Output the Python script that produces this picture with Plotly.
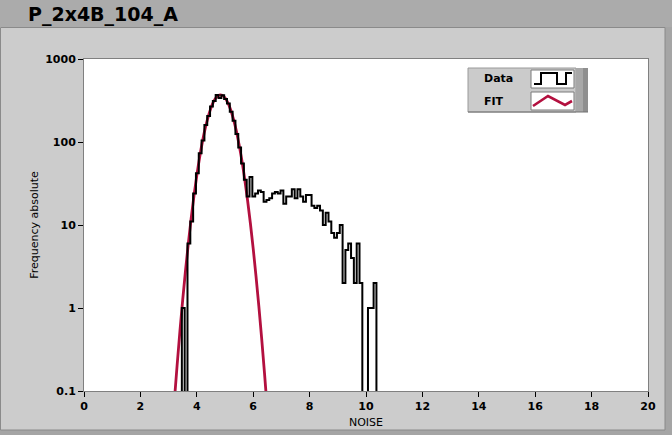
import numpy as np
import plotly.graph_objects as go

# ---------------- data ----------------
title_text = "P_2x4B_104_A"
x_title = "NOISE"
y_title = "Frequency absolute"
series_names = ["Data", "FIT"]

bin_start = 3.47
bin_width = 0.1
counts = [1, 0, 6, 11, 24, 42, 73, 104, 160, 205,
          268, 312, 368, 340, 365, 330, 290, 232, 180, 125,
          86, 55, 35, 22, 38, 22, 24, 26, 25, 19,
          20, 21, 24, 25, 24, 26, 18, 22, 22, 27,
          21, 27, 22, 19, 23, 23, 17, 16, 17, 15,
          10, 14, 11, 8, 7, 8, 10, 2, 5, 6,
          4, 2, 6, 2, 0, 0, 1, 1, 2]

fit_x = [3.2, 3.3, 3.4, 3.5, 3.6, 3.7, 3.8, 3.9, 4.0, 4.1, 4.2, 4.3, 4.4, 4.5,
         4.6, 4.7, 4.8, 4.9, 5.0, 5.1, 5.2, 5.3, 5.4, 5.5, 5.6, 5.7, 5.8, 5.9,
         6.0, 6.1, 6.2, 6.3, 6.4, 6.5]
fit_y = [0.073, 0.20, 0.52, 1.25, 2.83, 6.0, 12.0, 22.5, 39.5, 65.2, 101, 147, 200,
         256, 308, 347, 368, 366, 341, 298, 245, 189, 137, 92.9, 59.3, 35.5, 19.9,
         10.5, 5.2, 2.41, 1.05, 0.43, 0.165, 0.06]

x_ticks = [0, 2, 4, 6, 8, 10, 12, 14, 16, 18, 20]
y_tickvals = [0.1, 1, 10, 100, 1000]
y_ticktext = ["0.1", "1", "10", "100", "1000"]

# ---------------- build step trace ----------------
FLOOR = 1e-4  # zero counts drawn below the axis
edges = bin_start + bin_width * np.arange(len(counts) + 1)
vals = [c if c > 0 else FLOOR for c in counts]
step_x = [edges[0]] + list(edges[:-1]) + [edges[-1]]
step_y = [FLOOR] + vals + [FLOOR]

W, H = 672, 435
L, R, T, B = 84, 648, 59, 391


def px(x):
    return (x - L) / (R - L)


def py(y):
    return (B - y) / (B - T)


fig = go.Figure()
fig.add_trace(go.Scatter(x=fit_x, y=fit_y, mode="lines", name=series_names[1],
                         line=dict(color="#B3103F", width=2.8, shape="spline"),
                         showlegend=False, hoverinfo="skip"))
fig.add_trace(go.Scatter(x=step_x, y=step_y, mode="lines", name=series_names[0],
                         line=dict(color="black", width=2, shape="hv"),
                         showlegend=False, hoverinfo="skip"))

shapes = []
# title bar and outer darker strips
shapes.append(dict(type="rect", xref="paper", yref="paper", x0=px(0), x1=px(W), y0=py(27), y1=py(0),
                   fillcolor="#ababab", line_width=0, layer="below"))
shapes.append(dict(type="rect", xref="paper", yref="paper", x0=px(665), x1=px(W), y0=py(H), y1=py(27),
                   fillcolor="#a5a5a5", line_width=0, layer="below"))
shapes.append(dict(type="rect", xref="paper", yref="paper", x0=px(0), x1=px(W), y0=py(H), y1=py(430),
                   fillcolor="#a5a5a5", line_width=0, layer="below"))
# panel border
shapes.append(dict(type="rect", xref="paper", yref="paper", x0=px(0.5), x1=px(665), y0=py(430), y1=py(27.5),
                   fillcolor="rgba(0,0,0,0)", line=dict(color="#8a8a8a", width=1), layer="below"))

# legend box
lx0, lx1, ly0, ly1 = 468, 576, 68, 112
shapes.append(dict(type="rect", xref="paper", yref="paper", x0=px(lx0), x1=px(lx1), y0=py(ly1), y1=py(ly0),
                   fillcolor="#cbcbcb", line=dict(color="#9a9a9a", width=1)))
shapes.append(dict(type="rect", xref="paper", yref="paper", x0=px(576), x1=px(583), y0=py(ly1), y1=py(ly0),
                   fillcolor="#a8a8a8", line_width=0))
shapes.append(dict(type="rect", xref="paper", yref="paper", x0=px(583), x1=px(588), y0=py(ly1), y1=py(ly0),
                   fillcolor="#8f8f8f", line_width=0))
shapes.append(dict(type="line", xref="paper", yref="paper", x0=px(lx0), x1=px(588), y0=py(ly1), y1=py(ly1),
                   line=dict(color="#707070", width=1)))
for (y0, y1) in [(70, 88), (92, 110)]:
    shapes.append(dict(type="rect", xref="paper", yref="paper", x0=px(531), x1=px(574), y0=py(y1), y1=py(y0),
                       fillcolor="white", line=dict(color="#7a7a7a", width=1)))
# legend icons
pts = [(534, 84), (541, 84), (541, 73), (557, 73), (557, 84), (566, 84), (566, 73), (572, 73)]
path = "M " + " L ".join(f"{px(a)},{py(b)}" for a, b in pts)
shapes.append(dict(type="path", xref="paper", yref="paper", path=path,
                   line=dict(color="black", width=2)))
pts = [(533, 106), (548, 96), (565, 105), (572, 101)]
path = "M " + " L ".join(f"{px(a)},{py(b)}" for a, b in pts)
shapes.append(dict(type="path", xref="paper", yref="paper", path=path,
                   line=dict(color="#B3103F", width=2.6)))

annotations = [
    dict(text=title_text, xref="paper", yref="paper", x=px(26), y=py(15), xanchor="left", yanchor="middle",
         showarrow=False, font=dict(family="DejaVu Sans", size=19, color="black", weight="bold")),
    dict(text=series_names[0], xref="paper", yref="paper", x=px(482), y=py(79), xanchor="left", yanchor="middle",
         showarrow=False, font=dict(family="DejaVu Sans", size=11, color="black", weight="bold")),
    dict(text=series_names[1], xref="paper", yref="paper", x=px(482), y=py(101), xanchor="left", yanchor="middle",
         showarrow=False, font=dict(family="DejaVu Sans", size=11, color="black", weight="bold")),
]

fig.update_layout(
    width=W, height=H, autosize=False,
    margin=dict(l=L, r=W - R, t=T, b=H - B, pad=0, autoexpand=False),
    paper_bgcolor="#cccccc", plot_bgcolor="white",
    shapes=shapes, annotations=annotations, showlegend=False,
    font=dict(family="DejaVu Sans", color="black"),
)
fig.update_xaxes(range=[0, 20], tickvals=x_ticks, ticks="outside", ticklen=5, tickcolor="black",
                 showline=True, linecolor="#808080", linewidth=1, mirror=True, showgrid=False, zeroline=False,
                 automargin=False,
                 tickfont=dict(family="DejaVu Sans", size=11, color="black", weight="bold"),
                 title=dict(text=x_title, font=dict(family="DejaVu Sans", size=11, color="black"), standoff=6))
fig.update_yaxes(type="log", range=[-1, 3], tickvals=y_tickvals, ticktext=y_ticktext, ticks="outside",
                 ticklen=5, tickcolor="black", showline=True, linecolor="#808080", linewidth=1, mirror=True,
                 showgrid=False, zeroline=False, automargin=False,
                 tickfont=dict(family="DejaVu Sans", size=11, color="black", weight="bold"),
                 title=dict(text=y_title, font=dict(family="DejaVu Sans", size=11, color="black"), standoff=4))

fig.write_html("out.html", config={"displayModeBar": False},
               post_script="document.body.style.margin='0';document.body.style.overflow='hidden';")
